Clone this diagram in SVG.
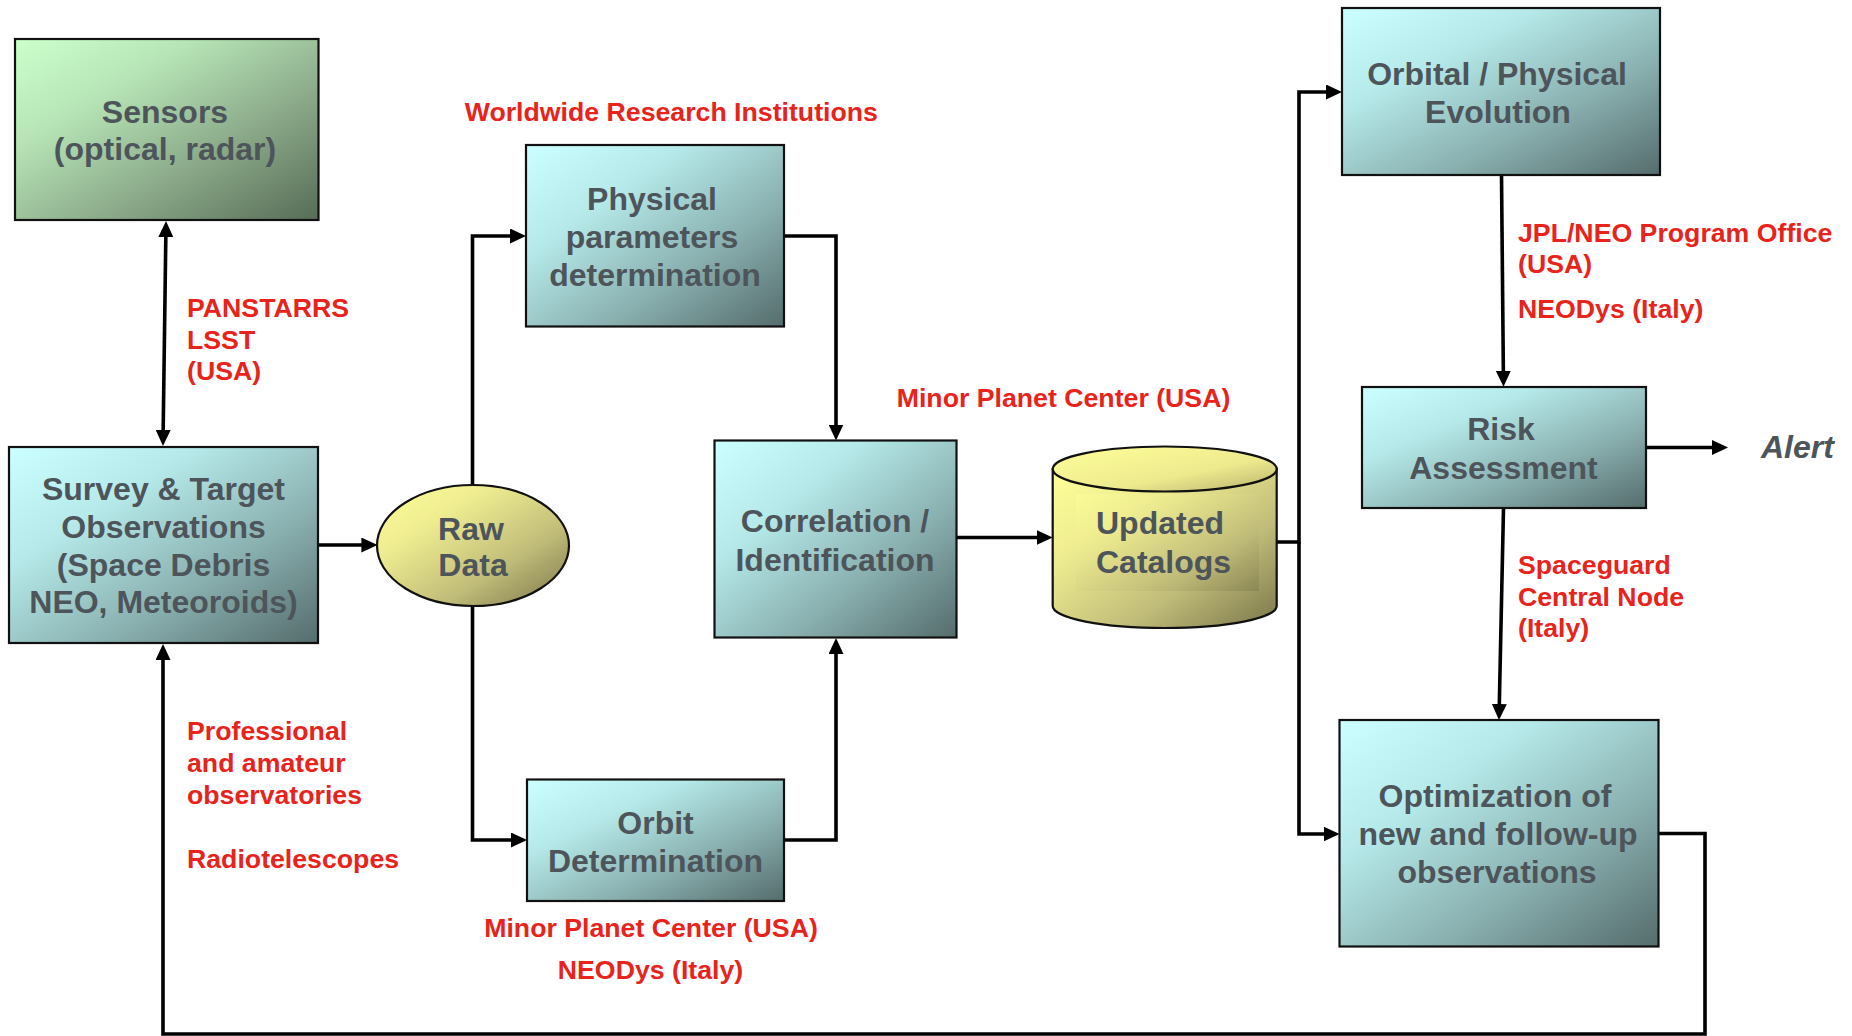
<svg xmlns="http://www.w3.org/2000/svg" width="1852" height="1036" viewBox="0 0 1852 1036">
<style>
.nt{font-family:"Liberation Sans",Arial,sans-serif;font-weight:bold;font-size:32px;fill:#4D555B;text-anchor:middle}
.rt{font-family:"Liberation Sans",Arial,sans-serif;font-weight:bold;font-size:26.7px;fill:#E8231B}
.box{stroke:#111;stroke-width:2.2}
.cn{fill:none;stroke:#000;stroke-width:3.6;stroke-linejoin:miter}
</style>
<defs>
<linearGradient id="gTeal" x1="0" y1="0" x2="1" y2="1">
<stop offset="0" stop-color="#CCFFFF"/><stop offset="0.3" stop-color="#B6EAEA"/><stop offset="0.65" stop-color="#8AB0B0"/><stop offset="1" stop-color="#556C6C"/>
</linearGradient>
<linearGradient id="gGreen" x1="0" y1="0" x2="1" y2="1">
<stop offset="0" stop-color="#CCFFCC"/><stop offset="0.3" stop-color="#B6E4B6"/><stop offset="0.65" stop-color="#8AA888"/><stop offset="1" stop-color="#566C56"/>
</linearGradient>
<linearGradient id="gYel" x1="0" y1="0" x2="1" y2="1">
<stop offset="0" stop-color="#FFFF99"/><stop offset="0.3" stop-color="#EEEC90"/><stop offset="0.65" stop-color="#C2BE7A"/><stop offset="1" stop-color="#7A764A"/>
</linearGradient>
<linearGradient id="gYelTop" x1="0" y1="0" x2="1" y2="1">
<stop offset="0" stop-color="#FFFF99"/><stop offset="0.6" stop-color="#EDEA8E"/><stop offset="1" stop-color="#B8B26C"/>
</linearGradient>
<marker id="ah" viewBox="0 0 16 15" refX="6" refY="7.5" markerWidth="16" markerHeight="15" markerUnits="userSpaceOnUse" orient="auto-start-reverse">
<path d="M0,0 L16,7.5 L0,15 z" fill="#000"/>
</marker>
</defs>
<rect width="1852" height="1036" fill="#fff"/>

<g id="connectors">
<path class="cn" d="M165.9,231 L163.1,436" marker-start="url(#ah)" marker-end="url(#ah)"/>
<path class="cn" d="M318,545 H367.4" marker-end="url(#ah)"/>
<path class="cn" d="M472.5,485 V236 H516" marker-end="url(#ah)"/>
<path class="cn" d="M472.5,606 V840 H517" marker-end="url(#ah)"/>
<path class="cn" d="M784,236 H836 V430.5" marker-end="url(#ah)"/>
<path class="cn" d="M784,840 H836 V648" marker-end="url(#ah)"/>
<path class="cn" d="M957,537.5 H1042.7" marker-end="url(#ah)"/>
<path class="cn" d="M1277,542 H1299 V92 H1332" marker-end="url(#ah)"/>
<path class="cn" d="M1299,542 V834 H1329.5" marker-end="url(#ah)"/>
<path class="cn" d="M1501.5,175 L1503.4,376.8" marker-end="url(#ah)"/>
<path class="cn" d="M1646,447.5 H1718" marker-end="url(#ah)"/>
<path class="cn" d="M1503.5,508 L1499.2,710" marker-end="url(#ah)"/>
<path class="cn" d="M1658.5,833.5 H1705 V1034 H163 V654" marker-end="url(#ah)"/>
</g>

<g id="sensors">
<rect class="box" x="15" y="39" width="303.5" height="181" fill="url(#gGreen)"/>
<text class="nt" x="165" y="123">Sensors</text>
<text class="nt" x="165" y="160">(optical, radar)</text>
</g>

<g id="survey">
<rect class="box" x="9" y="447" width="309" height="196" fill="url(#gTeal)"/>
<text class="nt" x="163.5" y="500">Survey &amp; Target</text>
<text class="nt" x="163.5" y="538">Observations</text>
<text class="nt" x="163.5" y="575.6">(Space Debris</text>
<text class="nt" x="163.5" y="613">NEO, Meteoroids)</text>
</g>

<g id="rawdata">
<ellipse class="box" cx="473" cy="545.5" rx="96" ry="60.5" fill="url(#gYel)"/>
<text class="nt" x="471" y="539.5">Raw</text>
<text class="nt" x="473" y="576">Data</text>
</g>

<g id="physical">
<rect class="box" x="526" y="145" width="258" height="181.5" fill="url(#gTeal)"/>
<text class="nt" x="652" y="209.5">Physical</text>
<text class="nt" x="652" y="247.5">parameters</text>
<text class="nt" x="655" y="285.5">determination</text>
</g>

<g id="orbit">
<rect class="box" x="527" y="779.5" width="257" height="121.5" fill="url(#gTeal)"/>
<text class="nt" x="655.5" y="833.8">Orbit</text>
<text class="nt" x="655.5" y="871.9">Determination</text>
</g>

<g id="correlation">
<rect class="box" x="714.5" y="440.5" width="242" height="197" fill="url(#gTeal)"/>
<text class="nt" x="835" y="532">Correlation /</text>
<text class="nt" x="835" y="570.5">Identification</text>
</g>

<g id="catalogs">
<path class="box" d="M1052.7,469 V606 A112,22 0 0 0 1276.7,606 V469 Z" fill="url(#gYel)"/>
<ellipse class="box" cx="1164.7" cy="469" rx="112" ry="22.5" fill="url(#gYelTop)"/>
<rect x="1076" y="494" width="183" height="97" fill="url(#gYel)" opacity="0.45"/>
<text class="nt" x="1096" y="534.3" style="text-anchor:start">Updated</text>
<text class="nt" x="1096" y="572.7" style="text-anchor:start">Catalogs</text>
</g>

<g id="orbital">
<rect class="box" x="1342" y="8" width="318" height="167" fill="url(#gTeal)"/>
<text class="nt" x="1497" y="85">Orbital / Physical</text>
<text class="nt" x="1498" y="122.5">Evolution</text>
</g>

<g id="risk">
<rect class="box" x="1362" y="387" width="284" height="121" fill="url(#gTeal)"/>
<text class="nt" x="1501" y="439.5">Risk</text>
<text class="nt" x="1503.5" y="479">Assessment</text>
</g>

<g id="optimization">
<rect class="box" x="1339.5" y="720" width="319" height="226.5" fill="url(#gTeal)"/>
<text class="nt" x="1495" y="806.7">Optimization of</text>
<text class="nt" x="1498" y="845">new and follow-up</text>
<text class="nt" x="1497" y="882.7">observations</text>
</g>

<g id="alert">
<text class="nt" x="1761" y="457.5" style="text-anchor:start;font-style:italic">Alert</text>
</g>

<g id="labels">
<text class="rt" x="464.7" y="120.5">Worldwide Research Institutions</text>
<text class="rt" x="187" y="317">PANSTARRS</text>
<text class="rt" x="187" y="348.5">LSST</text>
<text class="rt" x="187" y="380">(USA)</text>
<text class="rt" x="187" y="740">Professional</text>
<text class="rt" x="187" y="772">and amateur</text>
<text class="rt" x="187" y="804">observatories</text>
<text class="rt" x="187" y="868">Radiotelescopes</text>
<text class="rt" x="651" y="936.5" text-anchor="middle">Minor Planet Center (USA)</text>
<text class="rt" x="650.5" y="978.5" text-anchor="middle">NEODys (Italy)</text>
<text class="rt" x="896.7" y="407">Minor Planet Center (USA)</text>
<text class="rt" x="1518" y="241.5">JPL/NEO Program Office</text>
<text class="rt" x="1518" y="273">(USA)</text>
<text class="rt" x="1518" y="317.5">NEODys (Italy)</text>
<text class="rt" x="1518" y="574">Spaceguard</text>
<text class="rt" x="1518" y="605.5">Central Node</text>
<text class="rt" x="1518" y="636.5">(Italy)</text>
</g>
</svg>
